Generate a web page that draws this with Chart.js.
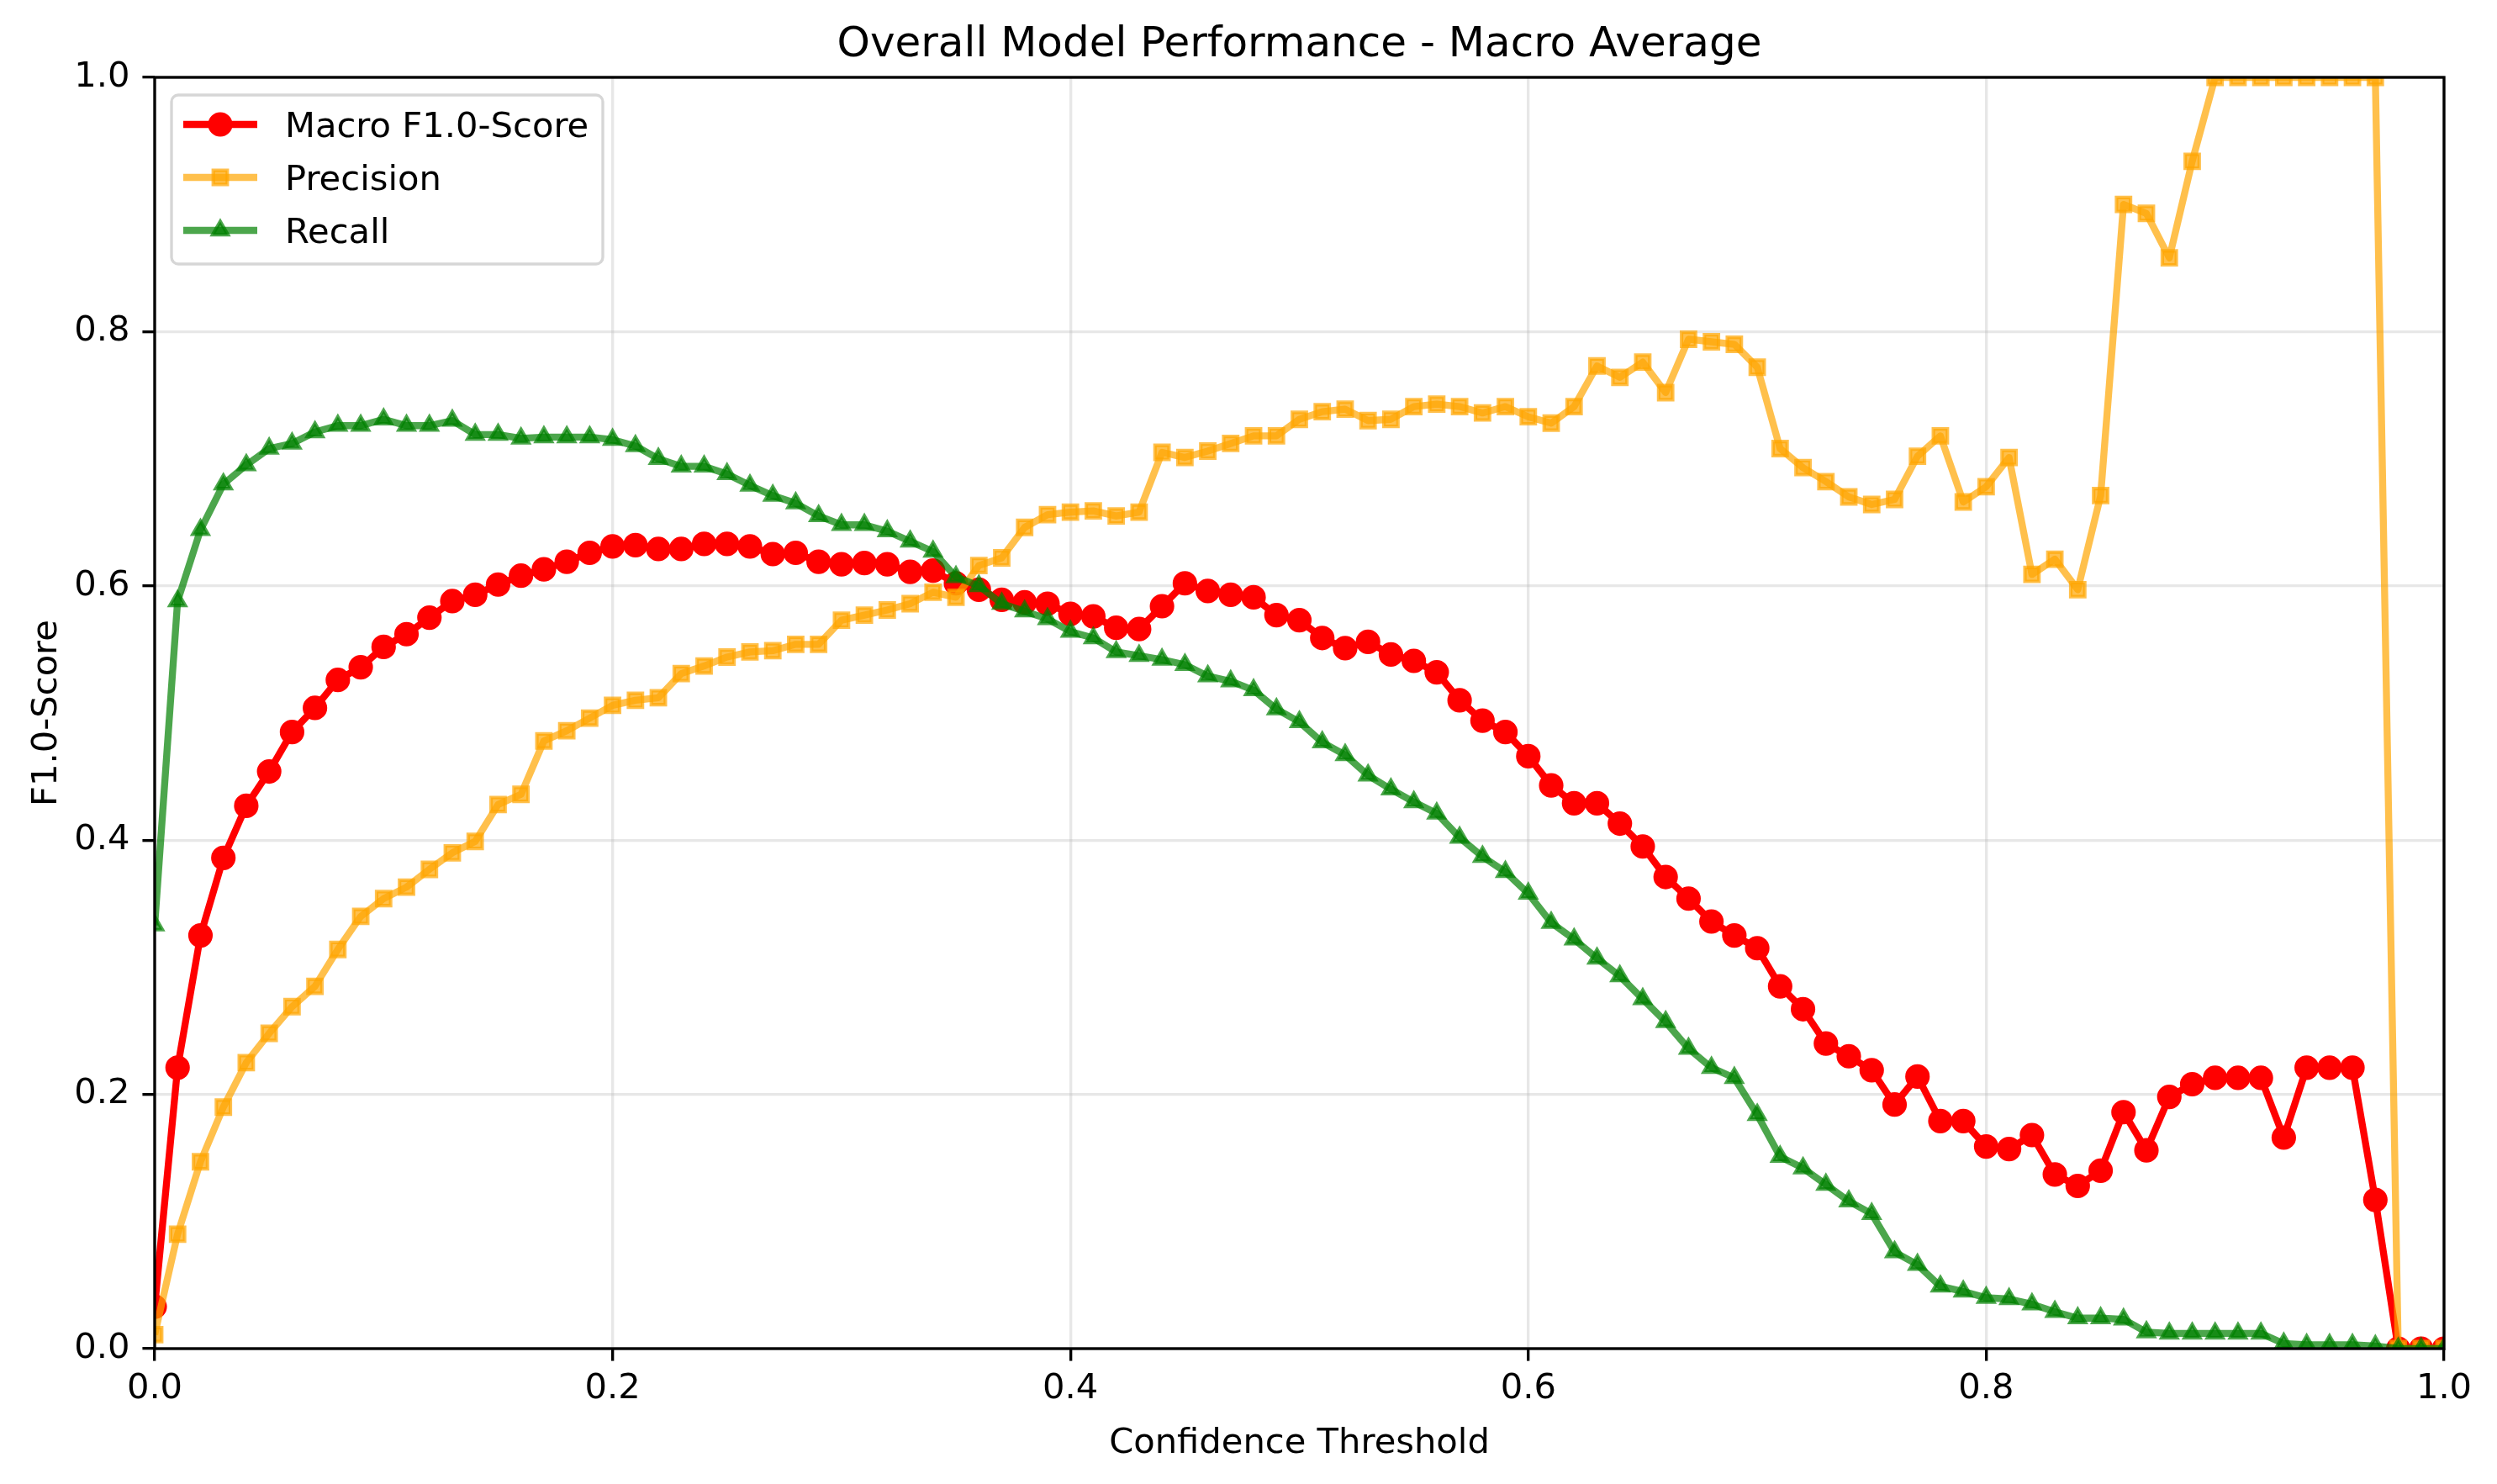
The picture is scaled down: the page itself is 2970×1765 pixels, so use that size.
<!DOCTYPE html>
<html>
<head>
<meta charset="utf-8">
<script src="https://cdn.jsdelivr.net/npm/chart.js@4.4.1/dist/chart.umd.min.js"></script>
<style>
html, body { margin: 0; padding: 0; background: #ffffff; }
#wrap { width: 2970px; height: 1765px; position: relative; }
canvas { display: block; }
</style>
</head>
<body>
<div id="wrap"><canvas id="c" width="2970" height="1765"></canvas></div>
<script>
// ---- Data ----
const thresholds = [
  0.00,0.01,0.02,0.03,0.04,0.05,0.06,0.07,0.08,0.09,
  0.10,0.11,0.12,0.13,0.14,0.15,0.16,0.17,0.18,0.19,
  0.20,0.21,0.22,0.23,0.24,0.25,0.26,0.27,0.28,0.29,
  0.30,0.31,0.32,0.33,0.34,0.35,0.36,0.37,0.38,0.39,
  0.40,0.41,0.42,0.43,0.44,0.45,0.46,0.47,0.48,0.49,
  0.50,0.51,0.52,0.53,0.54,0.55,0.56,0.57,0.58,0.59,
  0.60,0.61,0.62,0.63,0.64,0.65,0.66,0.67,0.68,0.69,
  0.70,0.71,0.72,0.73,0.74,0.75,0.76,0.77,0.78,0.79,
  0.80,0.81,0.82,0.83,0.84,0.85,0.86,0.87,0.88,0.89,
  0.90,0.91,0.92,0.93,0.94,0.95,0.96,0.97,0.98,0.99,
  1.00
];

const macroF1 = [
  0.033,0.221,0.325,0.386,0.427,0.454,0.485,0.504,0.526,0.536,
  0.552,0.562,0.575,0.588,0.593,0.601,0.608,0.613,0.619,0.626,
  0.631,0.632,0.629,0.629,0.633,0.633,0.631,0.625,0.626,0.619,
  0.617,0.618,0.617,0.611,0.612,0.602,0.597,0.589,0.587,0.586,
  0.578,0.576,0.567,0.566,0.584,0.602,0.596,0.593,0.591,0.577,
  0.573,0.559,0.551,0.556,0.546,0.541,0.532,0.510,0.494,0.485,
  0.466,0.443,0.429,0.429,0.413,0.395,0.371,0.354,0.336,0.325,
  0.315,0.285,0.267,0.240,0.230,0.219,0.192,0.214,0.179,0.179,
  0.159,0.157,0.168,0.137,0.128,0.140,0.186,0.156,0.198,0.208,
  0.213,0.213,0.213,0.166,0.221,0.221,0.221,0.117,0.000,0.000,
  0.000
];

const precision = [
  0.011,0.090,0.147,0.190,0.225,0.248,0.269,0.285,0.314,0.340,
  0.354,0.363,0.377,0.390,0.399,0.428,0.436,0.478,0.486,0.496,
  0.506,0.510,0.512,0.531,0.537,0.544,0.548,0.549,0.554,0.554,
  0.573,0.577,0.581,0.586,0.595,0.591,0.616,0.622,0.646,0.656,
  0.658,0.659,0.655,0.658,0.705,0.701,0.706,0.712,0.718,0.718,
  0.731,0.737,0.739,0.730,0.731,0.741,0.743,0.741,0.736,0.741,
  0.733,0.728,0.741,0.773,0.764,0.776,0.752,0.794,0.792,0.790,
  0.772,0.708,0.693,0.682,0.670,0.664,0.668,0.702,0.718,0.666,
  0.678,0.701,0.609,0.621,0.597,0.671,0.900,0.893,0.858,0.934,
  1.000,1.000,1.000,1.000,1.000,1.000,1.000,1.000,0.000,0.000,
  0.000
];

const recall = [
  0.333,0.588,0.644,0.680,0.695,0.708,0.712,0.721,0.726,0.726,
  0.731,0.726,0.726,0.730,0.719,0.719,0.716,0.717,0.717,0.717,
  0.715,0.710,0.700,0.694,0.694,0.688,0.679,0.671,0.665,0.655,
  0.648,0.648,0.643,0.635,0.627,0.607,0.600,0.586,0.580,0.574,
  0.564,0.559,0.548,0.545,0.542,0.538,0.529,0.525,0.518,0.503,
  0.493,0.477,0.467,0.451,0.440,0.430,0.421,0.402,0.387,0.375,
  0.358,0.335,0.322,0.307,0.293,0.275,0.257,0.236,0.221,0.213,
  0.184,0.151,0.142,0.129,0.116,0.106,0.076,0.066,0.049,0.045,
  0.040,0.039,0.035,0.029,0.024,0.024,0.023,0.013,0.012,0.012,
  0.012,0.012,0.012,0.004,0.003,0.003,0.003,0.002,0.000,0.000,
  0.000
];

const xTicks = [0.0, 0.2, 0.4, 0.6, 0.8, 1.0];
const yTicks = [0.0, 0.2, 0.4, 0.6, 0.8, 1.0];
const seriesLabels = ['Macro F1.0-Score', 'Precision', 'Recall'];
const titleText = 'Overall Model Performance - Macro Average';
const xLabel = 'Confidence Threshold';
const yLabel = 'F1.0-Score';

// ---- Styling ----
const FONT = "'DejaVu Sans', 'Liberation Sans', sans-serif";
const PT = 300 / 72;              // px per point
const LW = 2 * PT;                // line width
const EW = 1 * PT;                // marker edge width
const SPINE = 0.8 * PT;
const TICKLEN = 3.5 * PT;
const TICKFS = 10 * PT;
const GRID = 'rgba(176,176,176,0.3)';

function pairs(ys) { return thresholds.map((x, i) => ({ x: x, y: ys[i] })); }

const datasets = [
  {
    label: seriesLabels[0], data: pairs(macroF1),
    borderColor: '#ff0000', backgroundColor: '#ff0000',
    pointBackgroundColor: '#ff0000', pointBorderColor: '#ff0000',
    pointStyle: 'circle', pointRadius: 3 * PT, pointBorderWidth: EW,
    borderWidth: LW, order: 3
  },
  {
    label: seriesLabels[1], data: pairs(precision),
    borderColor: 'rgba(255,165,0,0.7)', backgroundColor: 'rgba(255,165,0,0.7)',
    pointBackgroundColor: 'rgba(255,165,0,0.7)', pointBorderColor: 'rgba(255,165,0,0.7)',
    pointStyle: 'rect', pointRadius: (4 * PT) / 2 / Math.SQRT1_2, pointBorderWidth: EW,
    borderWidth: LW, order: 2
  },
  {
    label: seriesLabels[2], data: pairs(recall),
    borderColor: 'rgba(0,128,0,0.7)', backgroundColor: 'rgba(0,128,0,0.7)',
    pointBackgroundColor: 'rgba(0,128,0,0.7)', pointBorderColor: 'rgba(0,128,0,0.7)',
    pointStyle: 'triangle', pointRadius: 10.5, pointBorderWidth: EW,
    borderWidth: LW, order: 1
  }
];
datasets.forEach(d => {
  d.tension = 0; d.fill = false; d.clip = 0;
  d.borderJoinStyle = 'round'; d.borderCapStyle = 'butt';
  d.pointHoverRadius = d.pointRadius;
});

function drawMarker(ctx, ds, x, y) {
  ctx.save();
  ctx.fillStyle = ds.pointBackgroundColor;
  ctx.strokeStyle = ds.pointBorderColor;
  ctx.lineWidth = ds.pointBorderWidth;
  const r = ds.pointRadius;
  ctx.beginPath();
  if (ds.pointStyle === 'circle') {
    ctx.arc(x, y, r, 0, Math.PI * 2);
  } else if (ds.pointStyle === 'rect') {
    const s = Math.SQRT1_2 * r;
    ctx.rect(x - s, y - s, 2 * s, 2 * s);
  } else if (ds.pointStyle === 'triangle') {
    let a = 0;
    ctx.moveTo(x + Math.sin(a) * r, y - Math.cos(a) * r);
    a += 2 * Math.PI / 3;
    ctx.lineTo(x + Math.sin(a) * r, y - Math.cos(a) * r);
    a += 2 * Math.PI / 3;
    ctx.lineTo(x + Math.sin(a) * r, y - Math.cos(a) * r);
  }
  ctx.closePath();
  ctx.fill();
  ctx.stroke();
  ctx.restore();
}

function roundRect(ctx, x, y, w, h, r) {
  ctx.beginPath();
  ctx.moveTo(x + r, y);
  ctx.lineTo(x + w - r, y);
  ctx.arcTo(x + w, y, x + w, y + r, r);
  ctx.lineTo(x + w, y + h - r);
  ctx.arcTo(x + w, y + h, x + w - r, y + h, r);
  ctx.lineTo(x + r, y + h);
  ctx.arcTo(x, y + h, x, y + h - r, r);
  ctx.lineTo(x, y + r);
  ctx.arcTo(x, y, x + r, y, r);
  ctx.closePath();
}

const decorPlugin = {
  id: 'decor',
  afterDraw(chart) {
    const ctx = chart.ctx;
    const a = chart.chartArea;
    ctx.save();
    // spines
    ctx.strokeStyle = '#000000';
    ctx.lineWidth = SPINE;
    ctx.lineJoin = 'miter';
    ctx.strokeRect(a.left, a.top, a.right - a.left, a.bottom - a.top);

    // title
    ctx.fillStyle = '#000000';
    ctx.textAlign = 'center';
    ctx.textBaseline = 'alphabetic';
    ctx.font = (12 * PT) + 'px ' + FONT;
    ctx.fillText(titleText, (a.left + a.right) / 2, 67);

    // axis labels
    ctx.font = TICKFS + 'px ' + FONT;
    ctx.fillText(xLabel, (a.left + a.right) / 2, 1728);
    ctx.save();
    ctx.translate(67, (a.top + a.bottom) / 2);
    ctx.rotate(-Math.PI / 2);
    ctx.fillText(yLabel, 0, 0);
    ctx.restore();

    // legend
    const lx = 204, ly = 113, lw = 513, lh = 201;
    roundRect(ctx, lx, ly, lw, lh, 8);
    ctx.fillStyle = 'rgba(255,255,255,0.8)';
    ctx.fill();
    ctx.strokeStyle = 'rgba(204,204,204,0.8)';
    ctx.lineWidth = SPINE;
    ctx.stroke();

    const rows = [148, 211, 274];
    const dsList = chart.data.datasets;
    for (let i = 0; i < dsList.length; i++) {
      const ds = dsList[i];
      const ry = rows[i];
      ctx.save();
      ctx.strokeStyle = ds.borderColor;
      ctx.lineWidth = ds.borderWidth;
      ctx.lineCap = 'butt';
      ctx.beginPath();
      ctx.moveTo(218, ry);
      ctx.lineTo(306, ry);
      ctx.stroke();
      ctx.restore();
      drawMarker(ctx, ds, 262, ry);
      ctx.fillStyle = '#000000';
      ctx.textAlign = 'left';
      ctx.textBaseline = 'alphabetic';
      ctx.font = TICKFS + 'px ' + FONT;
      ctx.fillText(ds.label, 339, ry + 15);
    }
    ctx.restore();
  }
};

const axisCommon = {
  type: 'linear',
  min: 0, max: 1,
  grid: {
    display: true, drawOnChartArea: true, drawTicks: true,
    color: GRID, lineWidth: SPINE,
    tickColor: '#000000', tickWidth: SPINE, tickLength: TICKLEN
  },
  border: { display: false }
};

new Chart(document.getElementById('c'), {
  type: 'line',
  data: { datasets: datasets },
  plugins: [decorPlugin],
  options: {
    responsive: false,
    maintainAspectRatio: false,
    animation: false,
    devicePixelRatio: 1,
    layout: { padding: { left: 0, right: 63, top: 92, bottom: 0 } },
    plugins: {
      legend: { display: false },
      title: { display: false },
      tooltip: { enabled: false }
    },
    events: [],
    scales: {
      x: Object.assign({}, axisCommon, {
        position: 'bottom',
        afterBuildTicks: s => { s.ticks = xTicks.map(v => ({ value: v })); },
        ticks: {
          color: '#000000', padding: 8.4, maxRotation: 0, autoSkip: false,
          font: { family: FONT, size: TICKFS },
          callback: v => Number(v).toFixed(1)
        },
        afterFit: s => { s.height = 161; }
      }),
      y: Object.assign({}, axisCommon, {
        position: 'left',
        afterBuildTicks: s => { s.ticks = yTicks.map(v => ({ value: v })); },
        ticks: {
          color: '#000000', padding: 15, autoSkip: false,
          font: { family: FONT, size: TICKFS },
          callback: v => Number(v).toFixed(1)
        },
        afterFit: s => { s.width = 184; }
      })
    }
  }
});
</script>
</body>
</html>
